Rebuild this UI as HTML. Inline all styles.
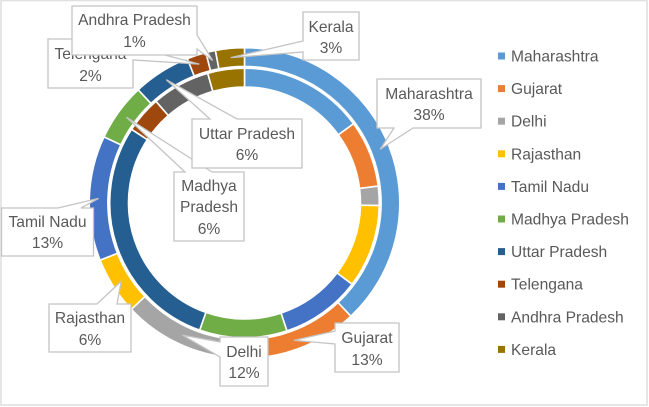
<!DOCTYPE html>
<html>
<head>
<meta charset="utf-8">
<title>State share double doughnut chart</title>
<style>
html,body{margin:0;padding:0;background:#fff;width:649px;height:407px;overflow:hidden}
svg{display:block;position:absolute;left:0;top:0;filter:blur(0.3px)}
text{font-family:"Liberation Sans",sans-serif;font-size:15.6px;fill:#595959}
</style>
</head>
<body>
<svg id="chart" width="649" height="407" viewBox="0 0 649 407" xmlns="http://www.w3.org/2000/svg">
  <rect x="1" y="0.5" width="646" height="404.5" fill="#fff" stroke="#e0e0e0" stroke-width="1.6"/>
  <g id="inner-ring"></g>
  <g id="outer-ring"></g>
  <g id="callouts"></g>
  <g id="legend"></g>
</svg>
<script>
var categories = ['Maharashtra','Gujarat','Delhi','Rajasthan','Tamil Nadu','Madhya Pradesh','Uttar Pradesh','Telengana','Andhra Pradesh','Kerala'];
var outerValues = [38,13,12,6,13,6,6,2,1,3];
var innerValues = [15,8,2.3,10,9.6,10.5,28.8,4.4,7,4.4];

var palette = ['#5B9BD5','#ED7D31','#A5A5A5','#FFC000','#4472C4','#70AD47','#255E91','#9E480E','#636363','#997300'];
var NS = 'http://www.w3.org/2000/svg';
var cx = 244.5, cy = 203;

var calloutLayout = [
  {x:377,y:79,w:104,h:49,side:'bottom',a:394,b:413,base:[99,120]},
  {x:335,y:323,w:64,h:49,side:'left',a:331,b:344,base:[343,365]},
  {x:220,y:337,w:48,h:49,side:'left',a:342,b:357,base:[357,378]},
  {x:49,y:304,w:82,h:48,side:'top',a:97,b:117,base:[323,345]},
  {x:1.5,y:208,w:92,h:48,side:'top',a:58,b:81,base:[227,248]},
  {x:174,y:172,w:70,h:69,side:'top',a:185,b:212,base:[191,212,234],wrap:true},
  {x:192,y:119,w:110,h:49,side:'top',a:210,b:237,base:[139,160]},
  {x:48,y:39,w:85,h:49,side:'right',a:46.5,b:60,base:[59,81]},
  {x:72,y:6,w:125,h:49,side:'right',a:35,b:49,base:[25,47]},
  {x:303,y:12,w:56,h:48,side:'left',a:41,b:52,base:[32,53]}
];

function total(vals){
  return vals.reduce(function(s,v){return s+v;},0);
}
function angleOf(v,sum){
  return v/sum*2*Math.PI;
}
function px(a,r){
  return cx+r*Math.sin(a);
}
function py(a,r){
  return cy-r*Math.cos(a);
}
function slicePath(a0,a1,R,r){
  var large = (a1-a0)>Math.PI?1:0;
  return 'M'+px(a0,R)+' '+py(a0,R)+
    'A'+R+' '+R+' 0 '+large+' 1 '+px(a1,R)+' '+py(a1,R)+
    'L'+px(a1,r)+' '+py(a1,r)+
    'A'+r+' '+r+' 0 '+large+' 0 '+px(a0,r)+' '+py(a0,r)+'Z';
}
function slug(s){
  return s.toLowerCase().replace(/\s+/g,'-');
}
function drawRing(groupId,vals,R,r,prefix){
  var g = document.getElementById(groupId), sum = total(vals), acc = 0;
  vals.forEach(function(v,i){
    var a0 = angleOf(acc,sum), a1 = angleOf(acc+v,sum);
    var p = document.createElementNS(NS,'path');
    p.setAttribute('d',slicePath(a0,a1,R,r));
    p.setAttribute('fill',palette[i]);
    p.setAttribute('stroke','#fff');
    p.setAttribute('stroke-width','1.6');
    
    
    g.appendChild(p);
    acc += v;
  });
}
function drawCallouts(){
  var g = document.getElementById('callouts'), sum = total(outerValues), acc = 0;
  outerValues.forEach(function(v,i){
    var L = calloutLayout[i];
    var mid = angleOf(acc+v/2,sum);
    var tx = px(mid,146), ty = py(mid,146);
    var x0 = L.x, y0 = L.y, x1 = L.x+L.w, y1 = L.y+L.h;
    var d = 'M'+x0+' '+y0;
    if(L.side==='top') d += 'L'+L.a+' '+y0+'L'+tx+' '+ty+'L'+L.b+' '+y0;
    d += 'L'+x1+' '+y0;
    if(L.side==='right') d += 'L'+x1+' '+L.a+'L'+tx+' '+ty+'L'+x1+' '+L.b;
    d += 'L'+x1+' '+y1;
    if(L.side==='bottom') d += 'L'+L.b+' '+y1+'L'+tx+' '+ty+'L'+L.a+' '+y1;
    d += 'L'+x0+' '+y1;
    if(L.side==='left') d += 'L'+x0+' '+L.b+'L'+tx+' '+ty+'L'+x0+' '+L.a;
    d += 'Z';

    var group = document.createElementNS(NS,'g');
    
    

    var box = document.createElementNS(NS,'path');
    box.setAttribute('d',d);
    box.setAttribute('fill','#fff');
    box.setAttribute('stroke','#c4c4c4');
    box.setAttribute('stroke-width','1.3');
    
    
    group.appendChild(box);

    var lines = L.wrap ? categories[i].split(' ') : [categories[i]];
    lines = lines.concat([v+'%']);
    lines.forEach(function(line,k){
      var t = document.createElementNS(NS,'text');
      t.setAttribute('x',L.x+L.w/2);
      t.setAttribute('y',L.base[k]);
      t.setAttribute('text-anchor','middle');
      
      
      t.textContent = line;
      group.appendChild(t);
    });
    g.appendChild(group);
    acc += v;
  });
}
function drawLegend(){
  var g = document.getElementById('legend');
  categories.forEach(function(c,i){
    var yc = 56 + i*32.6;
    var item = document.createElementNS(NS,'g');
    
    
    var s = document.createElementNS(NS,'rect');
    s.setAttribute('x',498);
    s.setAttribute('y',yc-3.5);
    s.setAttribute('width',7);
    s.setAttribute('height',7);
    s.setAttribute('fill',palette[i]);
    
    
    item.appendChild(s);
    var t = document.createElementNS(NS,'text');
    t.setAttribute('x',511);
    t.setAttribute('y',yc+5.5);
    
    
    t.textContent = c;
    item.appendChild(t);
    g.appendChild(item);
  });
}
drawRing('inner-ring',innerValues,134.8,116,'inner');
drawRing('outer-ring',outerValues,155.3,136.6,'outer');
drawCallouts();
drawLegend();
</script>
</body>
</html>
